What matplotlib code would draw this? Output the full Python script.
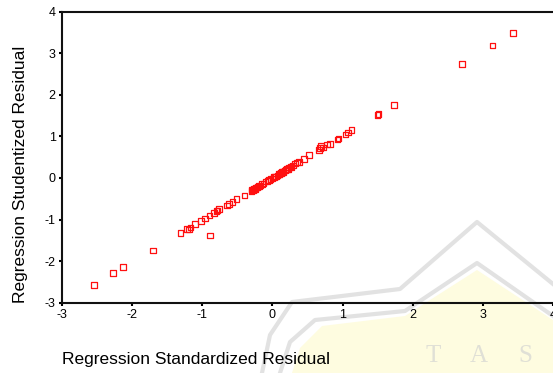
import numpy as np
import matplotlib.pyplot as plt
from matplotlib.patches import Polygon
from matplotlib.lines import Line2D

plt.rcParams['font.family'] = ['Liberation Sans', 'DejaVu Sans']
plt.rcParams['axes.unicode_minus'] = False

# Regression residuals
std_resid = [-2.54, -2.27, -2.13, -1.70, -1.31, -1.22, -1.19, -1.17, -1.10, -1.02,
             -0.96, -0.90, -0.89, -0.83, -0.80, -0.78, -0.76, -0.65, -0.62, -0.57,
             -0.51, -0.40, -0.30, -0.29, -0.28, -0.26, -0.25, -0.24, -0.23, -0.21,
             -0.20, -0.19, -0.17, -0.15, -0.13, -0.10, -0.07, -0.05, -0.03, 0.00,
             0.02, 0.04, 0.05, 0.07, 0.09, 0.10, 0.12, 0.14, 0.15, 0.16,
             0.18, 0.19, 0.21, 0.22, 0.24, 0.26, 0.27, 0.29, 0.32, 0.35,
             0.38, 0.45, 0.52, 0.66, 0.68, 0.69, 0.72, 0.78, 0.82, 0.93,
             0.94, 1.04, 1.08, 1.13, 1.50, 1.51, 1.73, 2.70, 3.14, 3.43]
stud_resid = [-2.57, -2.29, -2.14, -1.74, -1.32, -1.23, -1.24, -1.19, -1.11, -1.04,
              -0.97, -0.90, -1.38, -0.84, -0.80, -0.78, -0.75, -0.66, -0.63, -0.58,
              -0.51, -0.42, -0.31, -0.28, -0.29, -0.27, -0.26, -0.24, -0.23, -0.22,
              -0.20, -0.19, -0.18, -0.15, -0.13, -0.08, -0.07, -0.05, -0.03, -0.01,
              0.02, 0.04, 0.04, 0.06, 0.09, 0.10, 0.12, 0.14, 0.15, 0.16,
              0.18, 0.20, 0.22, 0.22, 0.25, 0.28, 0.27, 0.30, 0.35, 0.37,
              0.39, 0.46, 0.55, 0.67, 0.72, 0.77, 0.73, 0.81, 0.82, 0.93,
              0.95, 1.05, 1.09, 1.15, 1.52, 1.54, 1.75, 2.74, 3.19, 3.49]

x_ticks = [-3, -2, -1, 0, 1, 2, 3, 4]
y_ticks = [-3, -2, -1, 0, 1, 2, 3, 4]

W, H = 553, 373
fig = plt.figure(figsize=(W / 100, H / 100), dpi=100)


def px(pts):
    # pixel coords (origin top-left) -> figure fraction
    return [(x / W, 1 - y / H) for x, y in pts]


# faint watermark in the background
wm_fill = px([(292, 373), (300, 348), (322, 326), (405, 316), (477, 270), (553, 320), (553, 373)])
fig.patches.append(Polygon(wm_fill, closed=True, transform=fig.transFigure,
                           facecolor='#fefce0', edgecolor='none', zorder=-2))
outer = px([(262, 373), (270, 335), (292, 302), (400, 289), (477, 222), (553, 284)])
inner = px([(280, 373), (290, 342), (315, 320), (405, 311), (477, 263), (553, 316)])
for path in (outer, inner):
    xs, ys = zip(*path)
    fig.lines.append(Line2D(xs, ys, transform=fig.transFigure, color='#e2e2e2',
                            lw=3, solid_joinstyle='round', zorder=-1))
for ch, (cx, cy) in zip('TAS', [(433, 356), (479, 356), (525, 356)]):
    fig.text(cx / W, 1 - cy / H, ch, color='#e0e0d6', fontsize=18,
             family='Liberation Serif', ha='center', va='center', zorder=-1)

ax = fig.add_axes([62 / W, (H - 302.7) / H, (W - 62) / W, (302.7 - 11.7) / H])
ax.patch.set_visible(False)

ax.scatter(std_resid, stud_resid, marker='s', s=16, facecolors='none',
           edgecolors='#ff1010', linewidths=0.9, zorder=3)

ax.set_xlim(-3, 4)
ax.set_ylim(-3, 4)
ax.set_xticks(x_ticks)
ax.set_yticks(y_ticks)
ax.tick_params(length=2.5, width=1.5, direction='out', labelsize=9, pad=2)

for side in ('left', 'bottom', 'top'):
    ax.spines[side].set_linewidth(1.5)
    ax.spines[side].set_color('#111111')
ax.spines['right'].set_visible(False)

ax.set_xlabel('Regression Standardized Residual', fontsize=12.5, loc='left', labelpad=22)
ax.set_ylabel('Regression Studentized Residual', fontsize=12.5, loc='bottom', labelpad=12)

fig.savefig('out.png', dpi=100)
